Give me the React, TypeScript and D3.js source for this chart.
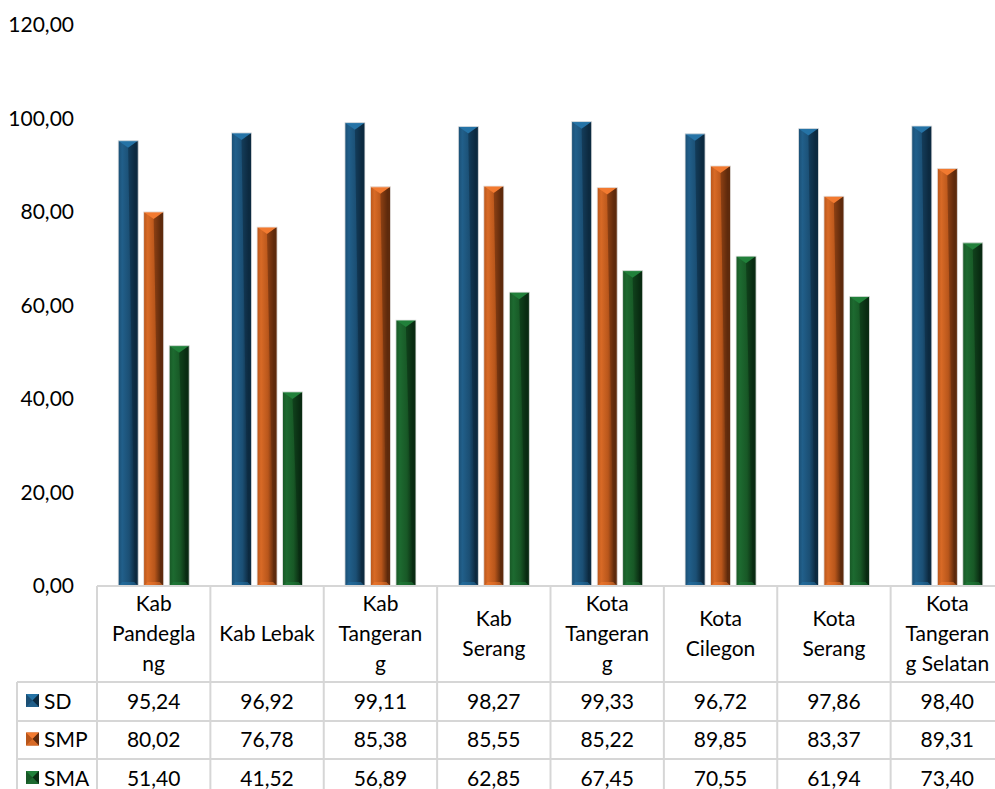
import React from "react";
import * as d3 from "d3";

const categories = [
  ["Kab", "Pandegla", "ng"],
  ["Kab Lebak"],
  ["Kab", "Tangeran", "g"],
  ["Kab", "Serang"],
  ["Kota", "Tangeran", "g"],
  ["Kota", "Cilegon"],
  ["Kota", "Serang"],
  ["Kota", "Tangeran", "g Selatan"],
];
const seriesNames = ["SD", "SMP", "SMA"];
const sdValues = [95.24, 96.92, 99.11, 98.27, 99.33, 96.72, 97.86, 98.4];
const smpValues = [80.02, 76.78, 85.38, 85.55, 85.22, 89.85, 83.37, 89.31];
const smaValues = [51.4, 41.52, 56.89, 62.85, 67.45, 70.55, 61.94, 73.4];
const yTicks = [0, 20, 40, 60, 80, 100, 120];

const palette = {
  SD: { top: "#2573a6", light: "#215f8a", mid: "#1b4f74", dark: "#0d2a40" },
  SMP: { top: "#f27a30", light: "#d86a26", mid: "#b8561b", dark: "#5e2a0c" },
  SMA: { top: "#21803a", light: "#1d6a30", mid: "#185826", dark: "#0a2c12" },
} as Record<string, { top: string; light: string; mid: string; dark: string }>;

const fmt = (v: number) => v.toFixed(2).replace(".", ",");
const FONT = "Lato, 'Open Sans', sans-serif";
const FS = 21;

export default function App() {
  const W = 995;
  const H = 789;
  const plotLeft = 97;
  const plotRight = 1004;
  const y0 = 586;
  const yTop = 25;
  const legendLeft = 17;
  const rowLines = [682, 721, 759, 798];
  const values = [sdValues, smpValues, smaValues];

  const x0 = d3
    .scaleBand<number>()
    .domain(categories.map((_, i) => i))
    .range([plotLeft, plotRight]);
  const groupW = 71;
  const x1 = d3
    .scaleBand<string>()
    .domain(seriesNames)
    .range([0, groupW])
    .paddingInner(0.216);
  const y = d3.scaleLinear().domain([0, 120]).range([y0, yTop]);

  const bw = x1.bandwidth();
  const bevel = 7;

  const bars: React.ReactNode[] = [];
  categories.forEach((_, ci) => {
    const gx = (x0(ci) as number) + x0.bandwidth() / 2 - groupW / 2;
    seriesNames.forEach((s, si) => {
      const v = values[si][ci];
      const x = gx + (x1(s) as number);
      const yt = y(v);
      const h = y0 - yt;
      const p = palette[s];
      bars.push(
        <g key={`${ci}-${s}`}>
          <rect x={x} y={yt} width={bw} height={h} fill={`url(#grad-${s})`} />
          <polygon
            points={`${x},${yt} ${x + bw},${yt} ${x + bw / 2},${yt + bevel}`}
            fill={p.top}
          />
          <polygon
            points={`${x + bw},${yt} ${x + bw},${y0} ${x + bw - 3},${y0 - 3} ${x + bw / 2},${yt + bevel}`}
            fill={p.dark}
            opacity={0.55}
          />
          <polygon
            points={`${x},${y0} ${x + bw},${y0} ${x + bw - 4},${y0 - 4} ${x + 4},${y0 - 4}`}
            fill={p.top}
            opacity={0.55}
          />
          <rect x={x} y={yt} width={bw} height={h} fill="none" stroke="#e6e6e6" strokeWidth={0.8} />
        </g>
      );
    });
  });

  const gridColor = "#d6d6d6";
  const lines: React.ReactNode[] = [];
  lines.push(<line key="top" x1={plotLeft} x2={W} y1={y0} y2={y0} stroke={gridColor} strokeWidth={2} />);
  rowLines.forEach((ry, i) =>
    lines.push(<line key={`r${i}`} x1={legendLeft} x2={W} y1={ry} y2={ry} stroke={gridColor} strokeWidth={2} />)
  );
  lines.push(<line key="vl" x1={legendLeft} x2={legendLeft} y1={rowLines[0]} y2={H} stroke={gridColor} strokeWidth={2} />);
  categories.forEach((_, ci) => {
    const xx = x0(ci) as number;
    lines.push(<line key={`v${ci}`} x1={xx} x2={xx} y1={y0} y2={H} stroke={gridColor} strokeWidth={2} />);
  });

  return (
    <svg
      width={W}
      height={H}
      style={{ position: "absolute", left: 0, top: 0, background: "#fff" }}
      fontFamily={FONT}
    >
      <defs>
        {seriesNames.map((s) => {
          const p = palette[s];
          return (
            <linearGradient key={s} id={`grad-${s}`} x1="0" x2="1" y1="0" y2="0">
              <stop offset="0" stopColor={p.mid} />
              <stop offset="0.2" stopColor={p.light} />
              <stop offset="0.55" stopColor={p.mid} />
              <stop offset="0.85" stopColor={p.dark} />
              <stop offset="1" stopColor={p.dark} />
            </linearGradient>
          );
        })}
      </defs>
      <rect width={W} height={H} fill="#fff" />
      {yTicks.map((t) => (
        <text key={t} x={74} y={y(t)} dy="0.35em" textAnchor="end" fontSize={FS} fill="#000">
          {fmt(t)}
        </text>
      ))}
      {bars}
      {lines}
      {categories.map((lbls, ci) => {
        const cx = (x0(ci) as number) + x0.bandwidth() / 2;
        const cy = (y0 + rowLines[0]) / 2;
        const lh = 30;
        const start = cy - ((lbls.length - 1) * lh) / 2;
        return (
          <text key={`c${ci}`} textAnchor="middle" fontSize={FS} fill="#000">
            {lbls.map((l, li) => (
              <tspan key={li} x={cx} y={start + li * lh} dy="0.35em">
                {l}
              </tspan>
            ))}
          </text>
        );
      })}
      {seriesNames.map((s, si) => {
        const ry = (rowLines[si] + rowLines[si + 1]) / 2;
        const p = palette[s];
        const kx = 26;
        const ks = 13;
        const ky = ry - ks / 2 - 1;
        return (
          <g key={`row${s}`}>
            <rect x={kx} y={ky} width={ks} height={ks} fill={p.mid} />
            <polygon points={`${kx},${ky} ${kx + ks},${ky} ${kx + ks / 2},${ky + ks / 2}`} fill={p.top} />
            <polygon points={`${kx + ks},${ky} ${kx + ks},${ky + ks} ${kx + ks / 2},${ky + ks / 2}`} fill={p.dark} />
            <polygon points={`${kx},${ky + ks} ${kx + ks},${ky + ks} ${kx + ks / 2},${ky + ks / 2}`} fill={p.light} />
            <text x={44} y={ry} dy="0.35em" fontSize={FS} fill="#000">
              {s}
            </text>
            {values[si].map((v, ci) => (
              <text
                key={ci}
                x={(x0(ci) as number) + x0.bandwidth() / 2}
                y={ry}
                dy="0.35em"
                textAnchor="middle"
                fontSize={FS}
                fill="#000"
              >
                {fmt(v)}
              </text>
            ))}
          </g>
        );
      })}
    </svg>
  );
}
